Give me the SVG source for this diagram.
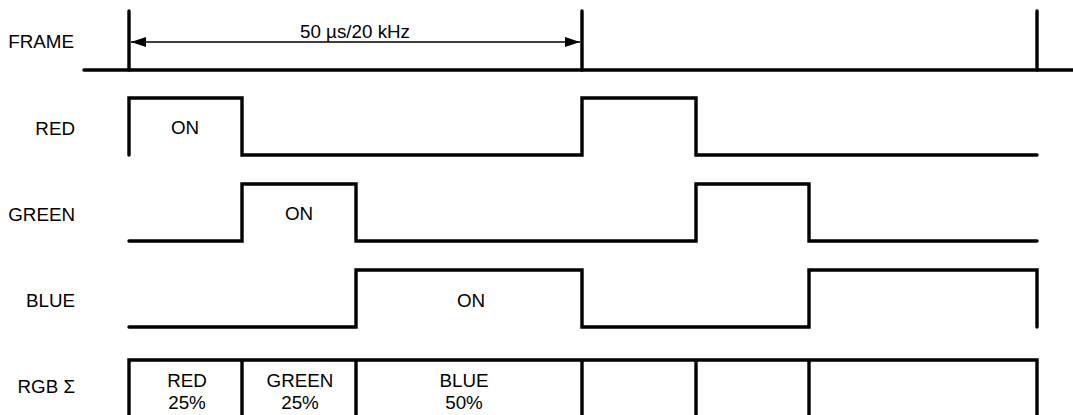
<svg xmlns="http://www.w3.org/2000/svg" width="1073" height="415" viewBox="0 0 1073 415">
<defs>
<style>
.sig{fill:none;stroke:#000;stroke-width:3.4;stroke-linecap:round;stroke-linejoin:miter}
.thin{fill:none;stroke:#000;stroke-width:1.3}
text{font-family:"Liberation Sans",Arial,sans-serif;font-size:18.8px;fill:#000}
.lbl{text-anchor:end}
.c{text-anchor:middle}
</style>
<marker id="ah" viewBox="0 0 15 10" refX="15" refY="5" markerWidth="15" markerHeight="10" markerUnits="userSpaceOnUse" orient="auto-start-reverse">
<path d="M0,0 L15,5 L0,10 Z" fill="#000"/>
</marker>
</defs>
<rect width="1073" height="415" fill="#fff"/>
<g id="labels">
<text class="lbl" x="74" y="48">FRAME</text>
<text class="lbl" x="75" y="135">RED</text>
<text class="lbl" x="75" y="221">GREEN</text>
<text class="lbl" x="75" y="307">BLUE</text>
<text class="lbl" x="75" y="393">RGB Σ</text>
</g>
<g id="frame">
<path class="sig" d="M84,70 H1073"/>
<path class="sig" d="M129,11 V70 M582,11 V70 M1037,11 V70"/>
</g>
<g id="red">
<path class="sig" d="M129,155 V98 H242 V155 H582 V98 H696 V155 H1037"/>
<text class="c" x="185" y="134">ON</text>
</g>
<g id="green">
<path class="sig" d="M129,241 H242 V184 H356 V241 H696 V184 H809 V241 H1037"/>
<text class="c" x="299" y="220">ON</text>
</g>
<g id="blue">
<path class="sig" d="M129,327 H356 V270 H582 V327 H809 V270 H1037 V327"/>
<text class="c" x="471" y="307">ON</text>
</g>
<g id="rgb">
<path class="sig" d="M129,418 V360 H1037 V418 M242,360 V418 M356,360 V418 M582,360 V418 M696,360 V418 M809,360 V418"/>
<text class="c" x="187" y="387">RED</text>
<text class="c" x="187" y="409">25%</text>
<text class="c" x="300" y="387">GREEN</text>
<text class="c" x="300" y="409">25%</text>
<text class="c" x="464" y="387">BLUE</text>
<text class="c" x="464" y="409">50%</text>
</g>
<g id="connectors">
<path class="thin" d="M131,42 H580" marker-start="url(#ah)" marker-end="url(#ah)"/>
<text class="c" x="355" y="38">50 µs/20 kHz</text>
</g>
</svg>
